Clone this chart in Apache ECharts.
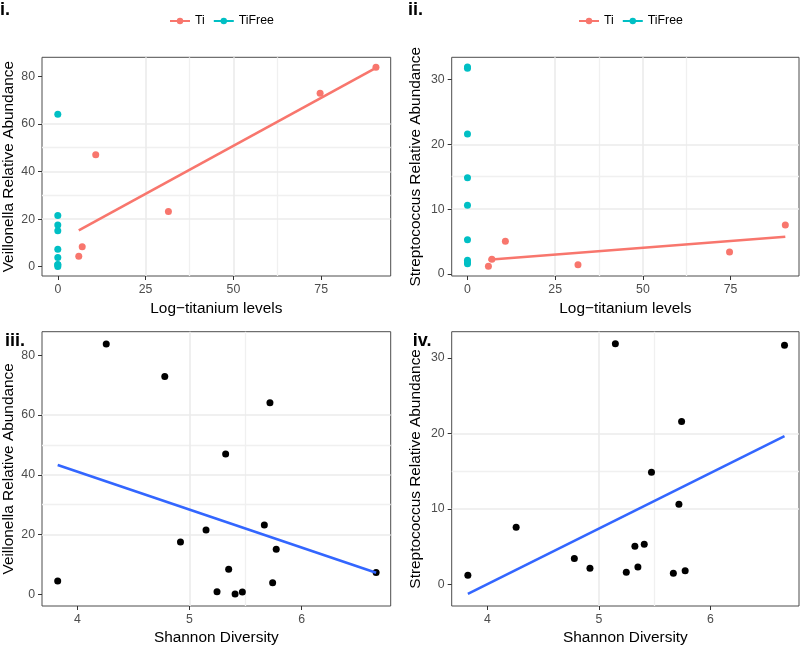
<!DOCTYPE html>
<html lang="en">
<head>
    <meta charset="UTF-8">
    <title>Titanium and abundance</title>
    <script src="https://cdn.jsdelivr.net/npm/echarts@6/dist/echarts.min.js"></script>
    <style>
        html, body { margin: 0; padding: 0; background: #fff; }
    </style>
</head>
<body>
    <div id="main" style="width: 800px; height: 646px;"></div>

    <script type="text/javascript">
        // one entry per sample
        const shannon       = [3.825, 4.258, 4.780, 4.920, 5.148, 5.246, 5.323, 5.350, 5.407, 5.472, 5.668, 5.718, 5.742, 5.774, 6.665];
        const veillonella   = [4.44, 83.8, 72.9, 17.5, 21.5, 0.89, 47.0, 8.43, 0.11, 0.78, 23.2, 64.1, 3.88, 15.1, 7.32];
        const streptococcus = [1.19, 7.55, 3.39, 2.11, 31.9, 1.59, 5.04, 2.29, 5.29, 14.85, 1.45, 10.6, 21.6, 1.77, 31.7];
        const titanium      = [5.97, 90.6, 74.7, 0, 0, 0, 10.8, 6.95, 0, 0, 31.5, 0, 0, 0, 0];
        const group         = ['Ti', 'Ti', 'Ti', 'TiFree', 'TiFree', 'TiFree', 'Ti', 'Ti', 'TiFree', 'TiFree', 'Ti', 'TiFree', 'TiFree', 'TiFree', 'TiFree'];

        // fitted lines (ends)
        const veilTiFit       = [[5.97, 15.3], [90.6, 83.6]];
        const strepTiFit      = [[5.97, 2.2], [90.6, 5.76]];
        const veilShannonFit  = [[3.825, 43.3], [6.665, 7.2]];
        const strepShannonFit = [[3.825, -1.3], [6.665, 19.65]];

        const titaniumTicks = [0, 25, 50, 75];
        const veilTicks     = [0, 20, 40, 60, 80];
        const strepTicks    = [0, 10, 20, 30];
        const shannonTicks  = [4, 5, 6];

        // in-between grid lines
        const titaniumMinor = [12.5, 37.5, 62.5, 87.5];
        const veilMinor     = [10, 30, 50, 70];
        const strepMinor    = [5, 15, 25];
        const shannonMinor  = [4.5, 5.5, 6.5];

        const RED = '#F8766D', CYAN = '#00BFC4', BLUE = '#3366FF';
        const FONT = 'Liberation Sans';

        function pairs(xs, ys, g) {
            let out = [];
            xs.forEach((x, i) => {
                if (!g || group[i] === g) out.push([x, ys[i]]);
            });
            return out;
        }

        function axis(gridIndex, min, max, interval, ticks, name, nameGap, labelMargin) {
            return {
                type: 'value', gridIndex, min, max, interval, z: 0,
                name, nameLocation: 'middle', nameGap,
                nameTextStyle: {color: '#000', fontSize: 15.4, fontFamily: FONT},
                axisLine: {show: false, onZero: false},
                axisTick: {show: true, length: 4, customValues: ticks, lineStyle: {color: '#333'}},
                axisLabel: {color: '#4D4D4D', fontSize: 12.3, margin: labelMargin, fontFamily: FONT, customValues: ticks},
                splitLine: {show: true, showMinLine: false, showMaxLine: false, lineStyle: {color: '#EBEBEB', width: 1.6}}
            };
        }
        // faint in-between grid lines: a bare axis drawn under the main one
        function minorAxis(gridIndex, min, max, ticks) {
            return {
                type: 'value', gridIndex, min, max, z: -1,
                axisLine: {show: false, onZero: false},
                axisTick: {show: false, customValues: ticks},
                axisLabel: {show: false, customValues: ticks},
                splitLine: {show: true, showMinLine: false, showMaxLine: false, lineStyle: {color: '#F0F0F0', width: 1.3}}
            };
        }
        const xAxisOf = (gi, min, max, step, ticks, name, gap) => axis(gi, min, max, step, ticks, name, gap, 8);
        const yAxisOf = (gi, min, max, step, ticks, name, gap) => axis(gi, min, max, step, ticks, name, gap, 7);

        function dots(name, gi, data, color) {
            return {type: 'scatter', name, xAxisIndex: gi, yAxisIndex: gi, data,
                symbolSize: 7, itemStyle: {color, opacity: 1}, z: 2};
        }
        function fit(name, gi, data, color) {
            return {type: 'line', name, xAxisIndex: gi, yAxisIndex: gi, data,
                symbol: 'none', lineStyle: {color, width: 2.6}, itemStyle: {color}, z: 3};
        }

        const gridBox = {show: true, z: -2, borderColor: '#4D4D4D', borderWidth: 1, backgroundColor: '#fff'};
        const legendBase = {
            data: ['Ti', 'TiFree'], top: 15, itemWidth: 20, itemHeight: 8, itemGap: 8, padding: 0,
            selectedMode: false, textStyle: {fontSize: 12.3, color: '#000', fontFamily: FONT}
        };

        const titleTi = 'Log\u2212titanium levels';
        const titleSh = 'Shannon Diversity';
        const titleVe = 'Veillonella Relative Abundance';
        const titleSt = 'Streptococcus Relative Abundance';

        let options = {
            animation: false,
            backgroundColor: '#fff',
            textStyle: {fontFamily: FONT},
            grid: [
                Object.assign({left: 41.7, top: 57.3, width: 349, height: 218.7}, gridBox),
                Object.assign({left: 451.7, top: 57.3, width: 347.3, height: 218.7}, gridBox),
                Object.assign({left: 41.7, top: 331.7, width: 349, height: 275}, gridBox),
                Object.assign({left: 451.7, top: 331.7, width: 347.3, height: 275}, gridBox)
            ],
            legend: [
                Object.assign({left: 169}, legendBase),
                Object.assign({left: 578}, legendBase)
            ],
            xAxis: [
                xAxisOf(0, -4.5, 94.8, 25, titaniumTicks, titleTi, 25),
                xAxisOf(1, -4.5, 94.5, 25, titaniumTicks, titleTi, 25),
                xAxisOf(2, 3.685, 6.795, 1, shannonTicks, titleSh, 24),
                xAxisOf(3, 3.68, 6.795, 1, shannonTicks, titleSh, 24),
                minorAxis(0, -4.5, 94.8, titaniumMinor),
                minorAxis(1, -4.5, 94.5, titaniumMinor),
                minorAxis(2, 3.685, 6.795, shannonMinor),
                minorAxis(3, 3.68, 6.795, shannonMinor)
            ],
            yAxis: [
                yAxisOf(0, -3.9, 88.0, 20, veilTicks, titleVe, 26),
                yAxisOf(1, -0.3, 33.4, 10, strepTicks, titleSt, 28),
                yAxisOf(2, -3.9, 87.9, 20, veilTicks, titleVe, 26),
                yAxisOf(3, -2.9, 33.5, 10, strepTicks, titleSt, 28),
                minorAxis(0, -3.9, 88.0, veilMinor),
                minorAxis(1, -0.3, 33.4, strepMinor),
                minorAxis(2, -3.9, 87.9, veilMinor),
                minorAxis(3, -2.9, 33.5, strepMinor)
            ],
            graphic: [
                {type: 'text', left: 0, top: 1, style: {text: 'i.', font: 'bold 18px "Liberation Sans"', fill: '#000'}},
                {type: 'text', left: 408, top: 1, style: {text: 'ii.', font: 'bold 18px "Liberation Sans"', fill: '#000'}},
                {type: 'text', left: 5, top: 332, style: {text: 'iii.', font: 'bold 18px "Liberation Sans"', fill: '#000'}},
                {type: 'text', left: 412.7, top: 332, style: {text: 'iv.', font: 'bold 18px "Liberation Sans"', fill: '#000'}}
            ],
            series: [
                fit('Ti', 0, veilTiFit, RED),
                fit('TiFree', 0, [], CYAN),
                dots('Ti', 0, pairs(titanium, veillonella, 'Ti'), RED),
                dots('TiFree', 0, pairs(titanium, veillonella, 'TiFree'), CYAN),

                fit('Ti', 1, strepTiFit, RED),
                dots('Ti', 1, pairs(titanium, streptococcus, 'Ti'), RED),
                dots('TiFree', 1, pairs(titanium, streptococcus, 'TiFree'), CYAN),

                dots('samples', 2, pairs(shannon, veillonella), '#000'),
                fit('lm', 2, veilShannonFit, BLUE),

                dots('samples', 3, pairs(shannon, streptococcus), '#000'),
                fit('lm', 3, strepShannonFit, BLUE)
            ]
        };

        let myChart = echarts.init(document.getElementById('main'));
        myChart.setOption(options);
    </script>
</body>
</html>
